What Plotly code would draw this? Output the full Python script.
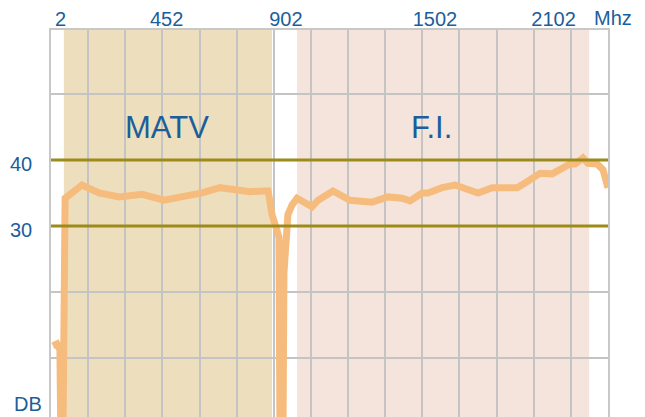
import plotly.graph_objects as go

# ---- data ----
freq_mhz = [10, 26, 38, 42, 50, 59, 127, 196, 277, 370, 459, 543, 612, 685, 806, 863, 879,
            895, 923, 927, 939, 943, 951, 959, 976, 996, 1028, 1056, 1081, 1141, 1210, 1299,
            1363, 1420, 1452, 1501, 1525, 1582, 1634, 1727, 1784, 1885, 1925, 1978, 2026,
            2099, 2119, 2151, 2171, 2208, 2232, 2240, 2252]
level_db = [11.8, 12.1, 11.2, -3, -3, 34.2, 36.2, 35.0, 34.4, 34.8, 33.9, 34.4, 35.0, 35.8,
            35.2, 35.3, 35.3, 31.7, 28.3, -3, -3, 22.9, 26.4, 31.7, 33.2, 34.2, 33.5, 32.9,
            33.9, 35.3, 33.9, 33.6, 34.4, 34.2, 33.8, 35.0, 35.0, 35.8, 36.2, 35.0, 35.8,
            35.8, 36.7, 38.0, 37.9, 39.4, 39.4, 40.3, 39.5, 39.4, 38.5, 37.4, 35.8]

band_names = ["MATV", "F.I."]
band_start = [54, 996]
band_end = [895, 2176]

limit_lines_db = [40, 30]

x_tick_labels = ["2", "452", "902", "1502", "2102"]
y_tick_labels = ["40", "30"]
y_tick_values = [40, 30]

# ---- styling / layout ----
TEXT = "#1B5E9B"
GRID = "#C4C4C4"
OLIVE = "#9C8B1B"
FONT = "Liberation Sans, Arial"
band_colors = ["#EDDFBD", "#F5E4DB"]
band_label_pos = [(470, 45), (1541, 45)]
x_tick_pos = [41, 469, 951, 1553, 2032]

fig = go.Figure()
fig.add_trace(go.Scatter(
    x=freq_mhz, y=level_db, mode="lines",
    line=dict(color="#F6BC7E", width=7),
    hoverinfo="skip", showlegend=False,
))

shapes = []
for s, e, c in zip(band_start, band_end, band_colors):
    shapes.append(dict(type="rect", xref="x", yref="paper", x0=s, x1=e, y0=0, y1=1,
                       fillcolor=c, line=dict(width=0), layer="below"))
for v in limit_lines_db:
    shapes.append(dict(type="line", xref="paper", yref="y", x0=0, x1=1, y0=v, y1=v,
                       line=dict(color=OLIVE, width=3), layer="above"))

annotations = []
for name, (ax, ay) in zip(band_names, band_label_pos):
    annotations.append(dict(x=ax, y=ay, xref="x", yref="y", text=name, showarrow=False,
                            font=dict(family=FONT, size=31, color=TEXT)))
annotations.append(dict(x=1.009, y=1.031, xref="paper", yref="paper", text="Mhz",
                        showarrow=False, xanchor="center", yanchor="middle",
                        font=dict(family=FONT, size=20, color=TEXT)))
annotations.append(dict(x=-0.0413, y=0.0336, xref="paper", yref="paper", text="DB",
                        showarrow=False, xanchor="center", yanchor="middle",
                        font=dict(family=FONT, size=20, color=TEXT)))

fig.update_layout(
    width=645, height=417,
    margin=dict(l=51, r=37, t=30, b=0, autoexpand=False),
    paper_bgcolor="white", plot_bgcolor="white",
    shapes=shapes, annotations=annotations,
    xaxis=dict(
        range=[2, 2252], side="top", automargin=False,
        tickvals=x_tick_pos, ticktext=x_tick_labels,
        showgrid=False, zeroline=False,
        showline=True, linecolor="#C8C8C8", linewidth=1.5,
        ticks="", ticklabelstandoff=-6,
        tickfont=dict(family=FONT, size=20, color=TEXT),
        minor=dict(tick0=2, dtick=150, showgrid=True, gridcolor=GRID, gridwidth=1.5, ticks=""),
        fixedrange=True,
    ),
    yaxis=dict(
        range=[1.0, 59.73], automargin=False,
        tickvals=y_tick_values, ticktext=y_tick_labels,
        showgrid=False, zeroline=False,
        showline=True, mirror=True, linecolor="#C8C8C8", linewidth=1.5,
        ticks="", ticklabelstandoff=13, ticklabelshift=4,
        tickfont=dict(family=FONT, size=20, color=TEXT),
        minor=dict(tick0=0, dtick=10, showgrid=True, gridcolor=GRID, gridwidth=1.5, ticks=""),
        fixedrange=True,
    ),
)

fig.write_html("out.html", config={"displayModeBar": False},
               post_script="document.body.style.margin='0';")
